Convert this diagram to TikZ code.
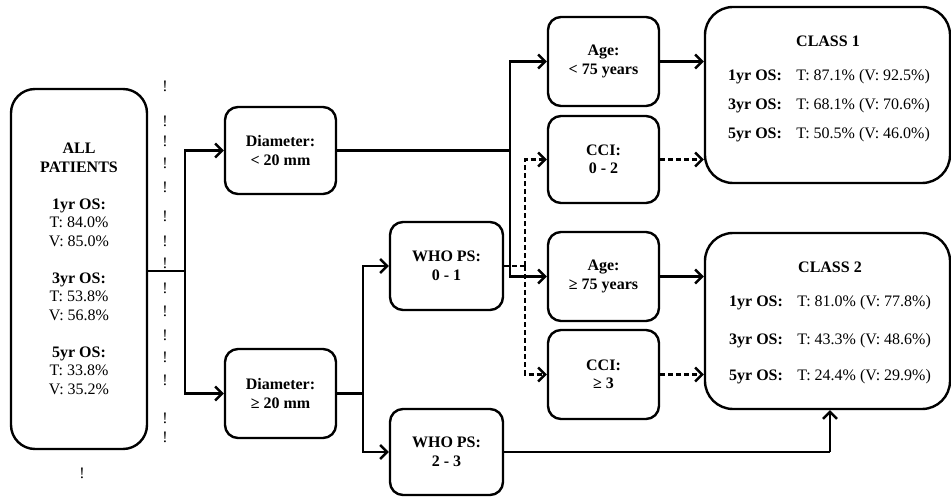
\documentclass[tikz,border=0pt]{standalone}
\usepackage{fontspec}
\setmainfont{Liberation Serif}
\usetikzlibrary{arrows.meta}
\begin{document}
\begin{tikzpicture}[x=1pt,y=-1pt,
  every node/.style={font=\fontsize{16}{18.5}\selectfont},
  smallbox/.style={draw,line width=2.4pt,rounded corners=13pt,minimum width=111pt,minimum height=88pt,align=center,font=\fontsize{16}{18.5}\selectfont\bfseries,inner sep=0pt},
  bigbox/.style={draw,line width=2.4pt,rounded corners=28pt,inner sep=0pt},
  txt/.style={inner sep=0pt,align=center},
  conn/.style={line width=2.4pt},
  arr/.style={line width=2.4pt,-{Straight Barb[length=7pt,width=14pt]}},
  dsh/.style={dash pattern=on 5pt off 3pt},
  bang/.style={inner sep=0pt,font=\fontsize{16}{18.5}\selectfont}
]
\useasboundingbox (0,0) rectangle (951,497);

% left column box
\node[bigbox,rounded corners=24pt,minimum width=136pt,minimum height=360pt,align=center] (allp) at (79,269)
 {\textbf{ALL}\\\textbf{PATIENTS}\\[18.5pt]\textbf{1yr OS:}\\T: 84.0\%\\V: 85.0\%\\[18.5pt]\textbf{3yr OS:}\\T: 53.8\%\\V: 56.8\%\\[18.5pt]\textbf{5yr OS:}\\T: 33.8\%\\V: 35.2\%};

% exclamation marks
\foreach \yy [count=\i] in {86,121,141,163,187,216,241,263,288,311,335,357,380,418,437}
  \node[bang] (bang\i) at (165,\yy) {!};
\node[bang] (bangb) at (82,473) {!};

% decision boxes
\node[smallbox,minimum height=87pt] (d1) at (280.5,150.5) {Diameter:\\< 20 mm};
\node[smallbox,minimum height=89pt] (d2) at (280.5,393.5) {Diameter:\\≥ 20 mm};
\node[smallbox,minimum width=113pt] (w1) at (446.5,266) {WHO PS:\\0 - 1};
\node[smallbox,minimum width=113pt,minimum height=86pt] (w2) at (446.5,452) {WHO PS:\\2 - 3};
\node[smallbox,minimum height=89pt] (a1) at (603.5,61.5) {Age:\\< 75 years};
\node[smallbox,minimum height=87pt] (c1) at (603.5,159.5) {CCI:\\0 - 2};
\node[smallbox,minimum height=89pt] (a2) at (603.5,276.5) {Age:\\≥ 75 years};
\node[smallbox,minimum height=89pt] (c2) at (603.5,374.5) {CCI:\\≥ 3};

% class boxes
\node[bigbox,minimum width=245pt,minimum height=176pt] (k1) at (827.5,95) {};
\node[txt,font=\fontsize{16}{18.5}\selectfont\bfseries] (k1h) at (828,41) {CLASS 1};
\node[txt] (k1a) at (829,77) {\textbf{1yr OS:}\hspace{0.9em}T: 87.1\% (V: 92.5\%)};
\node[txt] (k1b) at (829,106) {\textbf{3yr OS:}\hspace{0.9em}T: 68.1\% (V: 70.6\%)};
\node[txt] (k1c) at (829,135) {\textbf{5yr OS:}\hspace{0.9em}T: 50.5\% (V: 46.0\%)};

\node[bigbox,minimum width=245pt,minimum height=176pt] (k2) at (827.5,321) {};
\node[txt,font=\fontsize{16}{18.5}\selectfont\bfseries] (k2h) at (830,267) {CLASS 2};
\node[txt] (k2a) at (830,303) {\textbf{1yr OS:}\hspace{0.9em}T: 81.0\% (V: 77.8\%)};
\node[txt] (k2b) at (830,341) {\textbf{3yr OS:}\hspace{0.9em}T: 43.3\% (V: 48.6\%)};
\node[txt] (k2c) at (830,377) {\textbf{5yr OS:}\hspace{0.9em}T: 24.4\% (V: 29.9\%)};

% junctions
\coordinate (j0) at (185,271);
\coordinate (j1) at (510,150.5);
\coordinate (j2) at (363,393.5);
\coordinate (j3) at (525,266);
\coordinate (j4) at (830,452);

% connectors
\draw[conn] (allp.east |- j0) -- (j0);
\draw[arr] (j0) |- (d1.west);
\draw[arr] (j0) |- (d2.west);

\draw[conn] (d1.east) -- (j1);
\draw[arr] (j1) |- (a1.west);
\draw[arr] (j1) |- (a2.west);

\draw[conn] (d2.east) -- (j2);
\draw[arr] (j2) |- (w1.west);
\draw[arr] (j2) |- (w2.west);

\draw[conn,dsh] (w1.east) -- (j3);
\draw[arr,dsh] (j3) |- (c1.west);
\draw[arr,dsh] (j3) |- (c2.west);

\draw[arr] (a1.east) -- (a1.east -| k1.west);
\draw[arr,dsh] (c1.east) -- (c1.east -| k1.west);
\draw[arr] (a2.east) -- (a2.east -| k2.west);
\draw[arr,dsh] (c2.east) -- (c2.east -| k2.west);

\draw[conn] (w2.east) -- (j4);
\draw[arr] (j4) -- (j4 |- k2.south);
\end{tikzpicture}
\end{document}
